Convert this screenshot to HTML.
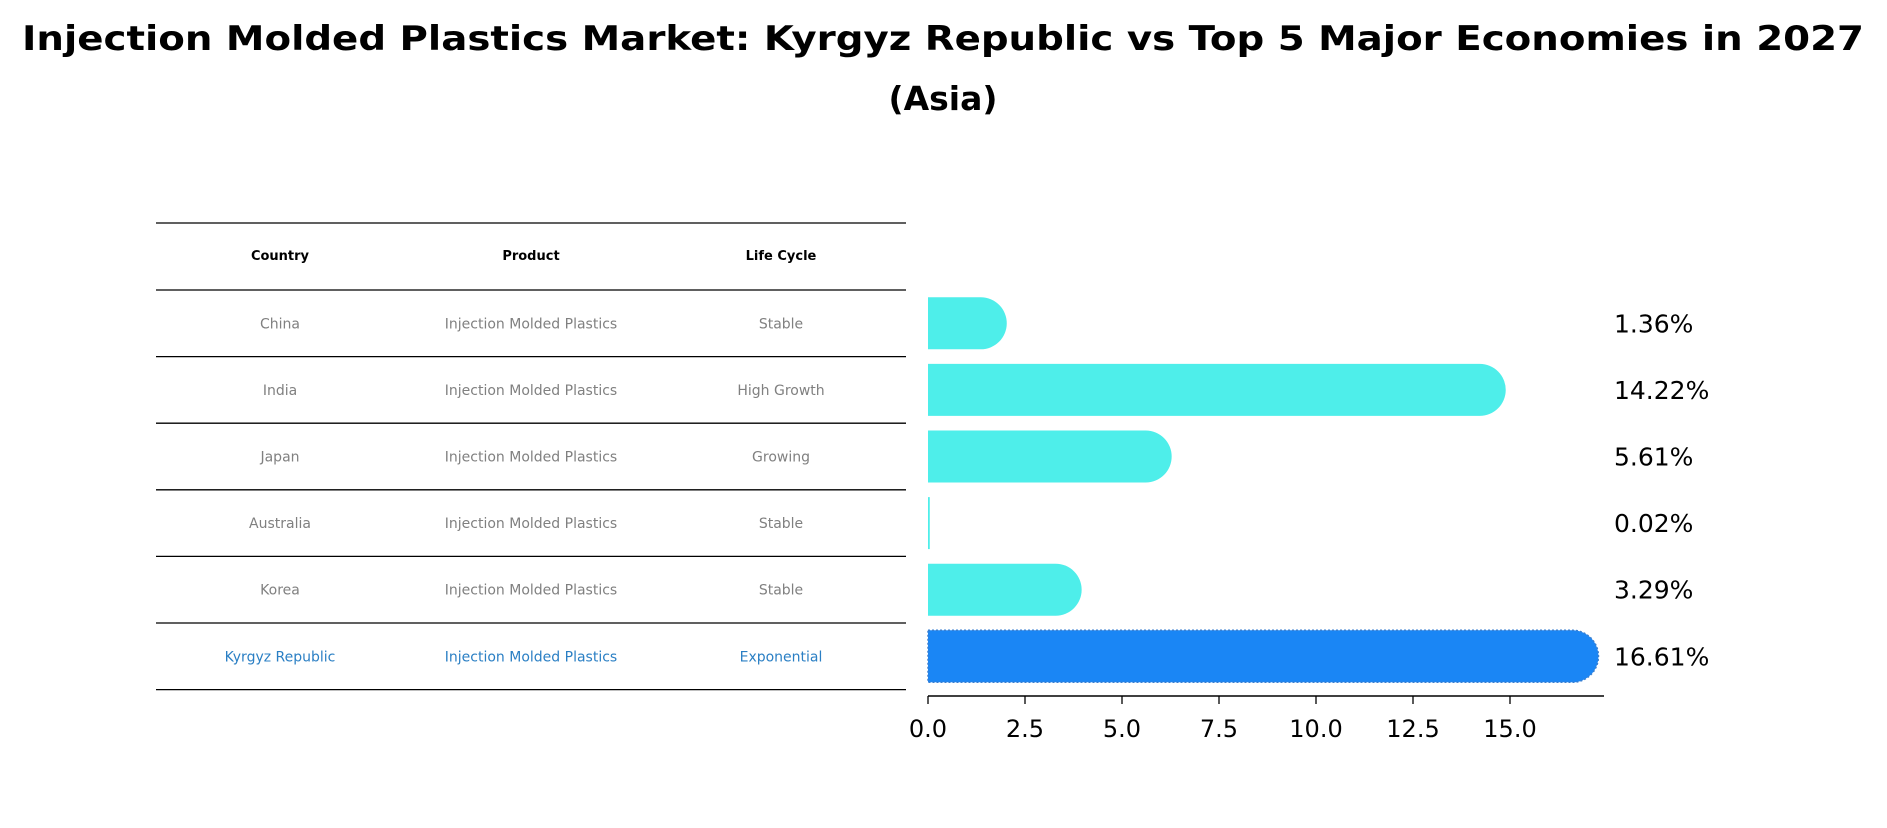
<!DOCTYPE html>
<html><head><meta charset="utf-8"><style>
body{margin:0;background:#fff}
svg text{font-family:"DejaVu Sans","Liberation Sans",sans-serif}
</style></head><body>
<svg id="chart" width="1887" height="823" viewBox="0 0 1887 823" xmlns="http://www.w3.org/2000/svg">
<text x="943" y="50" text-anchor="middle" font-size="34" font-weight="bold" textLength="1842" lengthAdjust="spacingAndGlyphs">Injection Molded Plastics Market: Kyrgyz Republic vs Top 5 Major Economies in 2027</text>
<text x="943" y="110" text-anchor="middle" font-size="33" font-weight="bold">(Asia)</text>
<g id="table"></g>
<g id="bars"></g>
</svg>
<script>
const countries=["China","India","Japan","Australia","Korea","Kyrgyz Republic"];
const products=["Injection Molded Plastics","Injection Molded Plastics","Injection Molded Plastics","Injection Molded Plastics","Injection Molded Plastics","Injection Molded Plastics"];
const lifeCycles=["Stable","High Growth","Growing","Stable","Stable","Exponential"];
const values=[1.36,14.22,5.61,0.02,3.29,16.61];
const valueLabels=["1.36%","14.22%","5.61%","0.02%","3.29%","16.61%"];
const ticks=[0,2.5,5,7.5,10,12.5,15];
const tickLabels=["0.0","2.5","5.0","7.5","10.0","12.5","15.0"];

const NS="http://www.w3.org/2000/svg";
function mk(tag,attrs,parent,text){const e=document.createElementNS(NS,tag);for(const k in attrs)e.setAttribute(k,attrs[k]);if(text!=null)e.textContent=text;parent.appendChild(e);return e;}
const X0=928, PXU=38.8;
const xs=v=>X0+v*PXU;
const rowTop=290, rowH=66.6;
const yc=i=>rowTop+rowH*(i+0.5);

// table
const tbl=document.getElementById('table');
const colX=[280,531,781];
let l=mk('line',{x1:156,x2:906,y1:223,y2:223,stroke:'#000','stroke-width':1.3},tbl);

["Country","Product","Life Cycle"].forEach((h,j)=>{
  const t=mk('text',{x:colX[j],y:260,'text-anchor':'middle','font-size':13,'font-weight':'bold'},tbl,h);
  
  
});
l=mk('line',{x1:156,x2:906,y1:290,y2:290,stroke:'#000','stroke-width':1.3},tbl);

countries.forEach((c,i)=>{
  const last=i===countries.length-1;
  const col=last?'#2a7fc4':'#808080';
  [c,products[i],lifeCycles[i]].forEach((v,j)=>{
    const t=mk('text',{x:colX[j],y:yc(i)+5,'text-anchor':'middle','font-size':14,fill:col},tbl,v);
    
    
  });
  const r=mk('line',{x1:156,x2:906,y1:rowTop+rowH*(i+1),y2:rowTop+rowH*(i+1),stroke:'#000','stroke-width':1.3},tbl);
  
  
});

// bars
const g=document.getElementById('bars');
const bh=52;
values.forEach((v,i)=>{
  const last=i===values.length-1;
  const fill=last?'#1a86f5':'#4eeeea';
  const y=yc(i)-bh/2, xe=xs(v);
  let d;
  if(v<0.5){d=`M${X0},${y}H${xe+1}V${y+bh}H${X0}Z`;}
  else{const r=bh/2;d=`M${X0},${y}H${xe}A${r},${r} 0 0 1 ${xe},${y+bh}H${X0}Z`;}
  const p=mk('path',{d:d,fill:fill},g);
  if(last){p.setAttribute('stroke','#3a7fd0');p.setAttribute('stroke-dasharray','2 2');p.setAttribute('stroke-width','1.5');}
  
  
  const t=mk('text',{x:1614,y:yc(i)+9,'font-size':25},g,valueLabels[i]);
  
  
});
const ax=mk('line',{x1:X0,x2:1604,y1:696,y2:696,stroke:'#000','stroke-width':1.6},g);


ticks.forEach((tv,k)=>{
  const tk=mk('line',{x1:xs(tv),x2:xs(tv),y1:696,y2:704,stroke:'#000','stroke-width':1.3},g);
  
  
  const t=mk('text',{x:xs(tv),y:737,'text-anchor':'middle','font-size':24},g,tickLabels[k]);
  
  
});
</script>
</body></html>
